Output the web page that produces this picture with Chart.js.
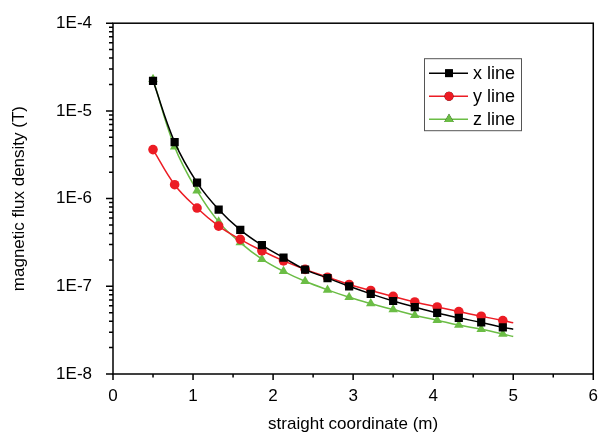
<!DOCTYPE html>
<html>
<head>
<meta charset="utf-8">
<script src="https://cdn.jsdelivr.net/npm/chart.js@4.4.0/dist/chart.umd.min.js"></script>
<style>
  html, body { margin: 0; padding: 0; background: #fff; }
  #wrap { width: 602px; height: 433px; }
</style>
</head>
<body>
<div id="wrap"><canvas id="flux-chart" width="602" height="433"></canvas></div>
<script>
// positions along the line (m); last entry is where the fitted curve ends (no marker)
var coords = [0.5, 0.77, 1.05, 1.32, 1.59, 1.86, 2.13, 2.4, 2.68, 2.95, 3.22, 3.5, 3.77, 4.05, 4.32, 4.6, 4.87, 5.0];

var x_line = [2.2e-5, 4.4e-6, 1.52e-6, 7.5e-7, 4.4e-7, 2.94e-7, 2.12e-7, 1.55e-7, 1.24e-7, 1.0e-7, 8.2e-8, 6.8e-8, 5.8e-8, 4.97e-8, 4.37e-8, 3.87e-8, 3.4e-8, 3.24e-8];
var y_line = [3.62e-6, 1.44e-6, 7.8e-7, 4.85e-7, 3.43e-7, 2.54e-7, 1.95e-7, 1.56e-7, 1.27e-7, 1.05e-7, 8.97e-8, 7.67e-8, 6.62e-8, 5.81e-8, 5.15e-8, 4.56e-8, 4.07e-8, 3.84e-8];
var z_line = [2.29e-5, 3.89e-6, 1.23e-6, 5.43e-7, 3.15e-7, 2.04e-7, 1.48e-7, 1.14e-7, 9.1e-8, 7.5e-8, 6.35e-8, 5.43e-8, 4.68e-8, 4.11e-8, 3.61e-8, 3.24e-8, 2.86e-8, 2.67e-8];

var x_ticks = [0, 1, 2, 3, 4, 5, 6];
var decades = [-8, -7, -6, -5, -4];

var font_family = "'Liberation Sans', Arial, sans-serif";

function points(vals) {
    var out = [];
    for (let i = 0; i < vals.length; i++) {
        out.push({ x: coords[i], y: vals[i] });
    }
    return out;
}

function makeSet(label, vals, color, style, r) {
    return {
        label: label,
        data: points(vals),
        borderColor: color,
        backgroundColor: color,
        borderWidth: 1.5,
        pointStyle: style,
        pointRadius: function (ctx) { return ctx.dataIndex === vals.length - 1 ? 0 : r; },
        pointBorderWidth: 0,
        tension: 0.4,
        fill: false,
    };
}

// frame, outward ticks, legend box
var frame_plugin = {
    id: "frame",
    afterDraw: function (chart) {
        let ctx = chart.ctx;
        let a = chart.chartArea;
        let xs = chart.scales.x;
        let ys = chart.scales.y;
        ctx.save();
        ctx.strokeStyle = "#000";
        ctx.lineWidth = 1.5;
        ctx.strokeRect(a.left, a.top, a.right - a.left, a.bottom - a.top);
        ctx.beginPath();
        for (let v = 0; v <= 6; v += 0.5) {
            let px = xs.getPixelForValue(v);
            let len = (v % 1 === 0) ? 6 : 3.5;
            ctx.moveTo(px, a.bottom);
            ctx.lineTo(px, a.bottom + len);
        }
        for (let i = 0; i < decades.length; i++) {
            let d = decades[i];
            let py = ys.getPixelForValue(Math.pow(10, d));
            ctx.moveTo(a.left, py);
            ctx.lineTo(a.left - 7, py);
            if (i < decades.length - 1) {
                for (let m = 2; m <= 9; m++) {
                    let pm = ys.getPixelForValue(m * Math.pow(10, d));
                    ctx.moveTo(a.left, pm);
                    ctx.lineTo(a.left - 4, pm);
                }
            }
        }
        ctx.stroke();

        // legend
        let bx = a.left + 311, by = a.top + 35, bw = 97, bh = 72;
        ctx.lineWidth = 1;
        ctx.strokeStyle = "#555";
        ctx.strokeRect(bx + 0.5, by + 0.5, bw, bh);
        ctx.font = "18px " + font_family;
        ctx.textBaseline = "middle";
        ctx.fillStyle = "#000";
        let sets = chart.data.datasets;
        for (let i = 0; i < sets.length; i++) {
            let ly = by + 15 + i * 23;
            ctx.strokeStyle = sets[i].borderColor;
            ctx.lineWidth = 1.5;
            ctx.beginPath();
            ctx.moveTo(bx + 5, ly);
            ctx.lineTo(bx + 44, ly);
            ctx.stroke();
            Chart.helpers.drawPoint(ctx, {
                pointStyle: sets[i].pointStyle,
                rotation: 0,
                borderWidth: 0,
                radius: sets[i].pointStyle === "circle" ? 4.5 : 5.5,
            }, bx + 25, ly);
            ctx.fillStyle = sets[i].backgroundColor;
            ctx.fill();
            ctx.fillStyle = "#000";
            ctx.fillText(sets[i].label, bx + 49, ly + 1);
        }
        ctx.restore();
    }
};

var chart_element = document.getElementById("flux-chart");
var chart = new Chart(chart_element, {
    type: "line",
    data: {
        datasets: [
            makeSet("x line", x_line, "#000000", "rect", 5.8),
            makeSet("y line", y_line, "#ec1c24", "circle", 4.8),
            makeSet("z line", z_line, "#6bbd45", "triangle", 5.5),
        ]
    },
    plugins: [frame_plugin],
    options: {
        responsive: false,
        animation: false,
        layout: { padding: { left: 9, top: 18, right: 3, bottom: 0 } },
        plugins: {
            legend: { display: false },
            tooltip: { enabled: false },
        },
        scales: {
            x: {
                type: "linear",
                min: 0,
                max: 6,
                grid: { display: false },
                border: { display: false },
                afterBuildTicks: function (scale) {
                    scale.ticks = x_ticks.map(function (v) { return { value: v }; });
                },
                afterFit: function (scale) { scale.height = 59; },
                ticks: {
                    padding: 4,
                    color: "#000",
                    font: { family: font_family, size: 17 },
                    maxRotation: 0,
                },
                title: {
                    display: true,
                    text: "straight coordinate (m)",
                    color: "#000",
                    font: { family: font_family, size: 17 },
                    padding: { top: 14, bottom: -2 },
                },
            },
            y: {
                type: "logarithmic",
                min: 1e-8,
                max: 1e-4,
                grid: { display: false },
                border: { display: false },
                afterBuildTicks: function (scale) {
                    scale.ticks = decades.map(function (d) { return { value: Math.pow(10, d) }; });
                },
                afterFit: function (scale) { scale.width = 104; },
                ticks: {
                    padding: 13,
                    color: "#000",
                    font: { family: font_family, size: 17 },
                    callback: function (v) {
                        return "1E" + Math.round(Math.log10(v));
                    },
                },
                title: {
                    display: true,
                    text: "magnetic flux density (T)",
                    color: "#000",
                    font: { family: font_family, size: 17 },
                    padding: { top: 0, bottom: 0 },
                },
            },
        },
    },
});
</script>
</body>
</html>
